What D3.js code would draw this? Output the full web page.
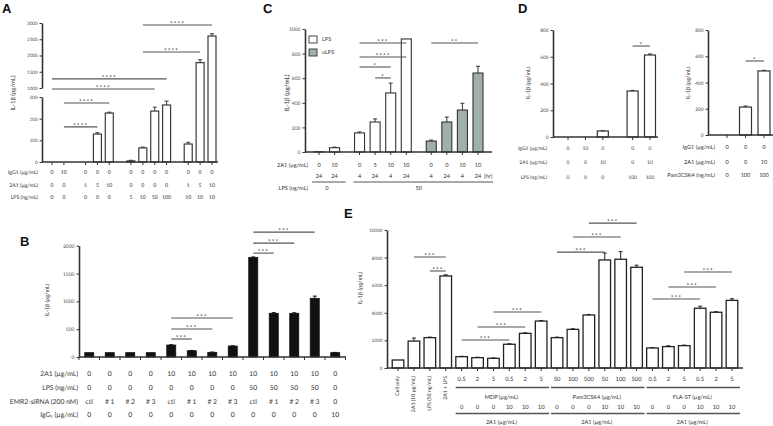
<!DOCTYPE html>
<html><head><meta charset="utf-8">
<script src="https://cdn.jsdelivr.net/npm/d3@7"></script>
<style>body{margin:0;background:#fff}svg{display:block}text{text-rendering:geometricPrecision}</style>
</head><body><svg id="c" width="773" height="426"></svg>
<script>
// ---------- Panel A ----------
const aIgG1 = ["0","10","0","0","0","0","0","0","0","0","0","0"];
const a2A1 = ["0","0","1","5","10","0","0","0","0","1","5","10"];
const aLPS = ["0","0","0","0","0","5","10","50","100","10","10","10"];
const aGroups = [0,0,1,1,1,2,2,2,2,3,3,3];
const aValues = [0,0,0,129,226,5,65,235,263,83,1780,2600];
const aErrors = [0,0,0,6,4,3,4,18,18,8,90,70];
const aTicksLow = [0,100,200,300];
const aTicksHigh = [1000,1500,2000,2500,3000];
const aSig = [[6,11,"****",2940],[6,10,"****",2110],[0,8,"****",1280],[0,7,"****",970],[1,4,"****",272],[1,3,"****",162]];

// ---------- Panel B ----------
const b2A1 = ["0","0","0","0","10","10","10","10","10","10","10","10","0"];
const bLPS = ["0","0","0","0","0","0","0","0","50","50","50","50","0"];
const bSiRNA = ["ctl","# 1","# 2","# 3","ctl","# 1","# 2","# 3","ctl","# 1","# 2","# 3","0"];
const bIgG1 = ["0","0","0","0","0","0","0","0","0","0","0","0","10"];
const bValues = [78,78,78,78,215,113,84,197,1790,785,785,1054,78];
const bErrors = [0,0,0,0,5,5,5,5,8,12,10,40,5];
const bTicks = [0,500,1000,1500,2000];
const bSig = [[8,11,"***",2244],[8,10,"***",2047],[8,9,"***",1867],[4,7,"***",700],[4,6,"***",503],[4,5,"***",323]];

// ---------- Panel C ----------
const c2A1 = ["0","10","0","5","10","10","0","0","10","10"];
const cHours = ["24","24","4","24","4","24","4","24","4","24"];
const cGroups = [0,0,1,1,1,1,2,2,2,2];
const cType = ["LPS","LPS","LPS","LPS","LPS","LPS","uLPS","uLPS","uLPS","uLPS"];
const cValues = [2,35,155,244,480,919,89,244,341,642];
const cErrors = [0,5,8,25,80,0,8,40,55,55];
const cTicks = [0,200,400,600,800,1000];
const cLegend = ["LPS","uLPS"];
const cSig = [[2,5,"***",886],[2,5,"****",772],[2,4,"*",691],[3,4,"*",602],[6,9,"**",886]];

// ---------- Panel D ----------
const d1IgG1 = ["0","10","0","0","0"];
const d12A1 = ["0","0","10","0","10"];
const d1LPS = ["0","0","0","100","100"];
const d1Groups = [0,0,0,1,1];
const d1Values = [0,0,45,344,613];
const d1Errors = [0,0,2,5,8];
const d1Sig = [[3,4,"*",680]];
const d2IgG1 = ["0","0","0"];
const d22A1 = ["0","0","10"];
const d2Pam = ["0","100","100"];
const d2Values = [0,213,488];
const d2Errors = [0,8,5];
const d2Sig = [[1,2,"*",564]];
const dTicks = [0,200,400,600,800];

// ---------- Panel E ----------
const eCtrl = ["Cell only","2A1 (10 µg/mL)","LPS (50 ng/mL)","2A1 + LPS"];
const eDose = ["0.5","2","5","0.5","2","5","50","100","500","50","100","500","0.5","2","5","0.5","2","5"];
const e2A1 = ["0","0","0","10","10","10","0","0","0","10","10","10","0","0","0","10","10","10"];
const eGroupNames = ["MDP (µg/mL)","Pam3CSK4 (µg/mL)","FLA-ST (µg/mL)"];
const eValues = [580,1950,2200,6670,820,750,700,1720,2510,3400,2200,2800,3840,7830,7880,7300,1450,1550,1620,4330,4040,4900];
const eErrors = [0,220,40,80,30,30,30,40,40,40,40,40,40,500,550,150,30,60,40,150,40,120];
const eTicks = [0,2000,4000,6000,8000,10000];
const eSig = [[1,3,"***",8040],[2,3,"***",7030],[4,7,"***",2030],[5,8,"***",2970],[6,9,"***",4060],
              [10,13,"***",8400],[11,14,"***",9490],[12,15,"***",10500],
              [16,19,"***",5000],[17,20,"***",5870],[18,21,"***",6960]];

// ================= drawing =================
const FONT = "Lato, 'Open Sans', sans-serif";
const AX = "#333";
const TX = "#333";
const svg = d3.select("#c");
svg.append("rect").attr("width",773).attr("height",426).attr("fill","#fff");

function text(x, y, s, fs, anchor) {
  return svg.append("text").attr("x", x).attr("y", y).attr("font-family", FONT)
    .attr("font-size", fs).attr("fill", TX).attr("text-anchor", anchor || "middle")
    .attr("dominant-baseline", "central").text(s);
}
function panelLetter(x, y, s) {
  svg.append("text").attr("x", x).attr("y", y).attr("font-family", "Liberation Sans, Arial, sans-serif")
    .attr("font-size", 13).attr("font-weight", "bold").attr("fill", "#111").text(s);
}
function yLabel(x, y, s, fs) {
  svg.append("text").attr("transform", `translate(${x},${y}) rotate(-90)`).attr("font-family", FONT)
    .attr("font-size", fs).attr("fill", TX).attr("text-anchor", "middle").attr("dominant-baseline", "central").text(s);
}
function yAxis(x, scale, ticks, fs) {
  const g = svg.append("g").attr("transform", `translate(${x},0)`)
    .call(d3.axisLeft(scale).tickValues(ticks).tickFormat(d3.format("d")).tickSize(2.5).tickSizeOuter(0).tickPadding(2));
  g.attr("font-family", FONT).attr("font-size", fs);
  g.select(".domain").attr("stroke", AX).attr("stroke-width", 1.6);
  g.selectAll(".tick line").attr("stroke", AX).attr("stroke-width", 1);
  g.selectAll(".tick text").attr("fill", "#444");
  return g;
}
function xBase(x0, x1, y, tickXs) {
  svg.append("line").attr("x1", x0).attr("x2", x1).attr("y1", y).attr("y2", y)
    .attr("stroke", AX).attr("stroke-width", 1.6);
  svg.append("g").selectAll("line").data(tickXs).join("line")
    .attr("x1", d => d).attr("x2", d => d).attr("y1", y).attr("y2", y + 3)
    .attr("stroke", AX).attr("stroke-width", 1);
}
function row(vals, xf, y, fs) {
  svg.append("g").selectAll("text").data(vals).join("text")
    .attr("x", (d, i) => xf(i)).attr("y", y).attr("font-family", FONT).attr("font-size", fs)
    .attr("fill", TX).attr("text-anchor", "middle").attr("dominant-baseline", "central").text(d => d);
}
function bars(xf, yf, vals, errs, w, y0, fillF, stroke, sw) {
  const g = svg.append("g");
  g.selectAll("rect").data(vals).join("rect")
    .attr("x", (d, i) => xf(i) - w / 2).attr("y", d => yf(d))
    .attr("width", w).attr("height", d => Math.max(0, y0 - yf(d)))
    .attr("fill", (d, i) => fillF(i)).attr("stroke", stroke).attr("stroke-width", sw)
    .attr("visibility", d => d > 0 ? "visible" : "hidden");
  vals.forEach((v, i) => {
    const e = errs[i];
    if (!(e > 0) || !(v > 0)) return;
    const x = xf(i), yt = yf(v + e);
    g.append("line").attr("x1", x).attr("x2", x).attr("y1", yf(v)).attr("y2", yt).attr("stroke", stroke).attr("stroke-width", 1);
    g.append("line").attr("x1", x - 2).attr("x2", x + 2).attr("y1", yt).attr("y2", yt).attr("stroke", stroke).attr("stroke-width", 1);
  });
}
function sig(xf, yf, list, fs, color) {
  const g = svg.append("g");
  list.forEach(([i, j, lab, lvl]) => {
    const y = yf(lvl);
    g.append("line").attr("x1", xf(i)).attr("x2", xf(j)).attr("y1", y).attr("y2", y)
      .attr("stroke", color || "#555").attr("stroke-width", 1.1);
    g.append("text").attr("x", (xf(i) + xf(j)) / 2).attr("y", y + 1.2).attr("font-family", FONT)
      .attr("font-size", fs).attr("letter-spacing", 1).attr("fill", "#333")
      .attr("text-anchor", "middle").text(lab);
  });
}

// ---------- Panel A ----------
panelLetter(2, 13, "A");
const aSlot = aValues.map((d, i) => i + 0.82 * aGroups[i]);
const xA = d3.scaleLinear().domain([0, d3.max(aSlot)]).range([52, 212]);
const xAf = i => xA(aSlot[i]);
const yALow = d3.scaleLinear().domain([0, 300]).range([162, 97]);
const yAHigh = d3.scaleLinear().domain([1000, 3000]).range([88, 23]);
const yA = v => v > 300 ? yAHigh(v) : yALow(v);
yAxis(42, yALow, aTicksLow, 4.5);
yAxis(42, yAHigh, aTicksHigh, 4.5);
yLabel(13, 93, "IL-1β (pg/mL)", 6);
bars(xAf, yA, aValues, aErrors, 8, 162, () => "#fff", "#3a3a3a", 1.2);
xBase(42, 218, 162, aValues.map((d, i) => xAf(i)));
sig(xAf, yA, aSig, 6.5);
text(38, 173, "IgG1 (µg/mL)", 5.2, "end");
text(38, 186, "2A1 (µg/mL)", 5.2, "end");
text(38, 198, "LPS (ng/mL)", 5.2, "end");
row(aIgG1, xAf, 173, 5.2);
row(a2A1, xAf, 186, 5.2);
row(aLPS, xAf, 198, 5.2);

// ---------- Panel C ----------
panelLetter(263, 13, "C");
const cSlot = cValues.map((d, i) => i + 0.6 * cGroups[i]);
const xC = d3.scaleLinear().domain([0, d3.max(cSlot)]).range([319, 478]);
const xCf = i => xC(cSlot[i]);
const yC = d3.scaleLinear().domain([0, 1000]).range([152, 29]);
const cColor = d3.scaleOrdinal().domain(cLegend).range(["#ffffff", "#9fb0aa"]);
yAxis(305, yC, cTicks, 5);
yLabel(287, 93, "IL-1β (pg/mL)", 6.3);
bars(xCf, yC, cValues, cErrors, 10, 152, i => cColor(cType[i]), "#333", 1.1);
xBase(305, 492, 152, cValues.map((d, i) => xCf(i)));
sig(xCf, yC, cSig, 6.5);
cLegend.forEach((k, i) => {
  svg.append("rect").attr("x", 309).attr("y", 36 + i * 13).attr("width", 8).attr("height", 7)
    .attr("fill", cColor(k)).attr("stroke", "#333").attr("stroke-width", 0.9);
  text(322, 40 + i * 13, k, 5.5, "start");
});
text(308, 165, "2A1 (µg/mL)", 5.6, "end");
row(c2A1, xCf, 165, 5.6);
row(cHours, xCf, 176, 5.6);
text(484, 176, "[hr]", 5.6, "start");
svg.append("line").attr("x1", xCf(0) - 7).attr("x2", xCf(1) + 11).attr("y1", 182).attr("y2", 182).attr("stroke", "#555").attr("stroke-width", 1);
svg.append("line").attr("x1", xCf(2) - 6).attr("x2", xCf(9) + 15).attr("y1", 182).attr("y2", 182).attr("stroke", "#555").attr("stroke-width", 1);
text(308, 188, "LPS (ng/mL)", 5.6, "end");
text((xCf(0) + xCf(1)) / 2, 188, "0", 5.6);
text((xCf(2) + xCf(9)) / 2, 188, "50", 5.6);

// ---------- Panel D (left) ----------
panelLetter(518, 13, "D");
const d1Slot = d1Values.map((d, i) => i + 0.71 * d1Groups[i]);
const xD1 = d3.scaleLinear().domain([0, d3.max(d1Slot)]).range([568, 650]);
const xD1f = i => xD1(d1Slot[i]);
const yD1 = d3.scaleLinear().domain([0, 800]).range([137, 30]);
yAxis(553, yD1, dTicks, 4.8);
yLabel(528, 83, "IL-1β (pg/mL)", 5.6);
bars(xD1f, yD1, d1Values, d1Errors, 11, 137, () => "#fff", "#333", 1.2);
xBase(553, 658, 137, d1Values.map((d, i) => xD1f(i)));
sig(xD1f, yD1, d1Sig, 6.5);
text(547, 149, "IgG1 (µg/mL)", 5, "end");
text(547, 163, "2A1 (µg/mL)", 5, "end");
text(547, 178, "LPS (ng/mL)", 5, "end");
row(d1IgG1, xD1f, 149, 5);
row(d12A1, xD1f, 163, 5);
row(d1LPS, xD1f, 178, 5);

// ---------- Panel D (right) ----------
const xD2 = d3.scalePoint().domain(d3.range(d2Values.length)).range([727, 764]);
const yD2 = d3.scaleLinear().domain([0, 800]).range([135, 30]);
yAxis(708, yD2, dTicks, 4.8);
yLabel(688, 83, "IL-1β (pg/mL)", 5.6);
bars(xD2, yD2, d2Values, d2Errors, 12, 135, () => "#fff", "#333", 1.2);
xBase(708, 773, 135, d2Values.map((d, i) => xD2(i)));
sig(xD2, yD2, d2Sig, 6.5);
text(715, 147, "IgG1 (µg/mL)", 5.6, "end");
text(715, 162, "2A1 (µg/mL)", 5.6, "end");
text(715, 175, "Pam3CSK4 (ng/mL)", 5.6, "end");
row(d2IgG1, xD2, 147, 5.6);
row(d22A1, xD2, 162, 5.6);
row(d2Pam, xD2, 175, 5.6);

// ---------- Panel B ----------
panelLetter(20, 246, "B");
const xB = d3.scaleBand().domain(d3.range(bValues.length)).range([79, 345.5]).paddingInner(0.56).paddingOuter(0.28);
const xBf = i => xB(i) + xB.bandwidth() / 2;
const yB = d3.scaleLinear().domain([0, 2000]).range([357, 245.7]);
yAxis(79, yB, bTicks, 5);
yLabel(47, 300, "IL-1β (pg/mL)", 5.6);
bars(xBf, yB, bValues, bErrors, xB.bandwidth(), 357, () => "#111", "#111", 0.8);
const bBounds = d3.range(bValues.length + 1).map(i => 79 + i * xB.step());
xBase(79, 346, 357, bBounds);
sig(xBf, yB, bSig, 6.5);
[["2A1 (µg/mL)", b2A1, 374], ["LPS (ng/mL)", bLPS, 388], ["EMR2-siRNA (200 nM)", bSiRNA, 402], ["IgG₁ (µg/mL)", bIgG1, 415]]
  .forEach(([lab, vals, y]) => { text(78, y, lab, 6.8, "end"); row(vals, xBf, y, 6.8); });

// ---------- Panel E ----------
panelLetter(344, 218, "E");
const xE = d3.scaleBand().domain(d3.range(eValues.length)).range([390, 740]).paddingInner(0.27).paddingOuter(0.14);
const xEf = i => xE(i) + xE.bandwidth() / 2;
const yE = d3.scaleLinear().domain([0, 10000]).range([368, 230]);
yAxis(387, yE, eTicks, 4.6);
yLabel(360, 288, "IL-1β (pg/mL)", 5.6);
bars(xEf, yE, eValues, eErrors, xE.bandwidth(), 368, () => "#fff", "#222", 1.3);
xBase(387, 743, 368, eValues.map((d, i) => xEf(i)));
sig(xEf, yE, eSig, 6.5);
eCtrl.forEach((s, i) => {
  svg.append("text").attr("transform", `translate(${xEf(i)},376) rotate(-90)`).attr("font-family", FONT)
    .attr("font-size", 5.2).attr("fill", TX).attr("text-anchor", "end").attr("dominant-baseline", "central").text(s);
});
const eOff = eCtrl.length;
row(eDose, i => xEf(i + eOff), 379, 5.8);
row(e2A1, i => xEf(i + eOff), 407, 5.8);
eGroupNames.forEach((name, gI) => {
  const a = xEf(eOff + gI * 6), b = xEf(eOff + gI * 6 + 5);
  [387.5, 413.5].forEach(y => svg.append("line").attr("x1", a - 6).attr("x2", b + 8).attr("y1", y).attr("y2", y)
    .attr("stroke", "#555").attr("stroke-width", 1.3));
  text((a + b) / 2, 397, name, 5.6);
  text((a + b) / 2, 422, "2A1 (µg/mL)", 5.6);
});
</script></body></html>
